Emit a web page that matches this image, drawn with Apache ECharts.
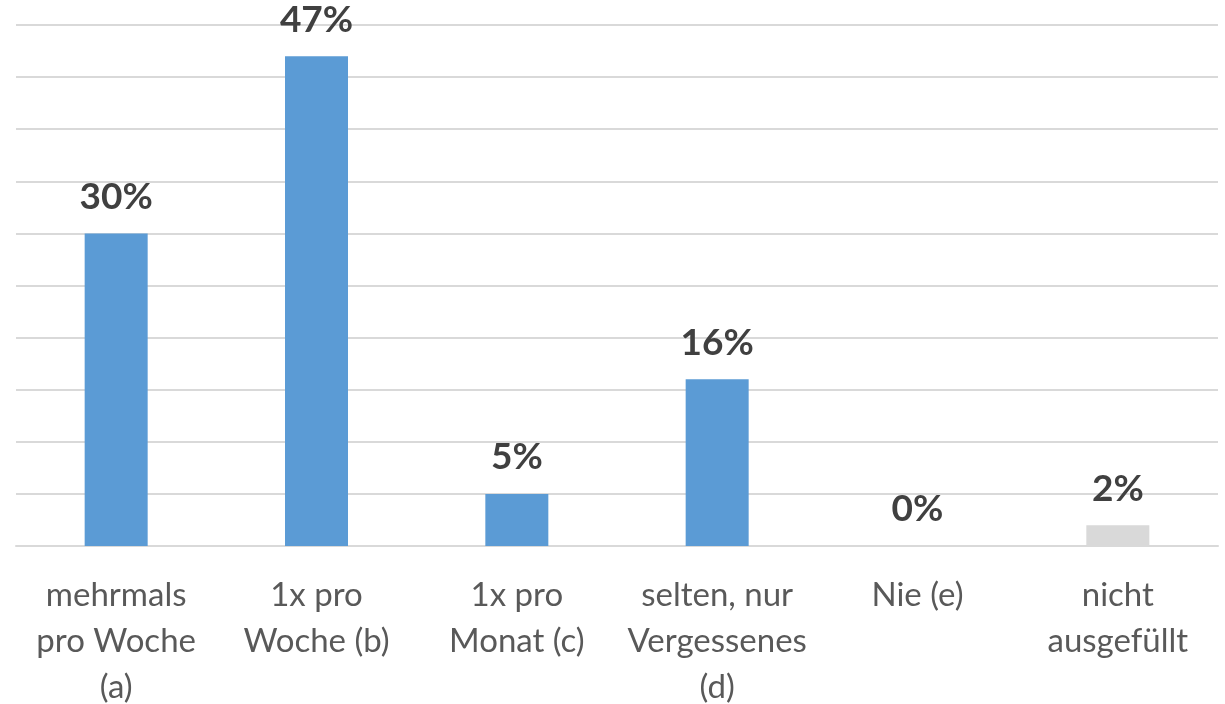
<!DOCTYPE html>
<html><head><meta charset="utf-8">
<script src="https://cdn.jsdelivr.net/npm/echarts@6/dist/echarts.min.js"></script>
<style>html,body{margin:0;padding:0;background:#fff}#c{width:1225px;height:704px}</style>
</head><body><div id="c"></div>
<script>
const categories = ["mehrmals\npro Woche\n(a)", "1x pro\nWoche (b)", "1x pro\nMonat (c)", "selten, nur\nVergessenes\n(d)", "Nie (e)", "nicht\nausgefüllt"];
const values = [30, 47, 5, 16, 0, 2];
const barColors = ["#5b9bd5", "#5b9bd5", "#5b9bd5", "#5b9bd5", "#5b9bd5", "#d9d9d9"];

const chart = echarts.init(document.getElementById('c'), null, {renderer: 'canvas'});
chart.setOption({
  animation: false,
  grid: {left: 16, right: 7, top: 25, bottom: 158, containLabel: false, outerBoundsMode: 'none'},
  xAxis: {
    type: 'category', data: categories,
    axisLine: {show: true, lineStyle: {color: '#d9d9d9', width: 2}},
    axisTick: {show: false},
    axisLabel: {interval: 0, margin: 26, color: '#595959', fontSize: 33, lineHeight: 46, fontFamily: 'Lato'}
  },
  yAxis: {
    type: 'value', min: 0, max: 50, interval: 5,
    axisLabel: {show: false}, axisLine: {show: false}, axisTick: {show: false},
    splitLine: {lineStyle: {color: '#d9d9d9', width: 2}}
  },
  series: [{
    type: 'bar', barWidth: 63,
    data: values.map((v, i) => ({value: v, itemStyle: {color: barColors[i]}})),
    label: {show: true, position: 'top', distance: 18, formatter: '{c}%', color: '#404040', fontSize: 37, fontWeight: 'bold', fontFamily: 'Lato'}
  }]
});
</script></body></html>
